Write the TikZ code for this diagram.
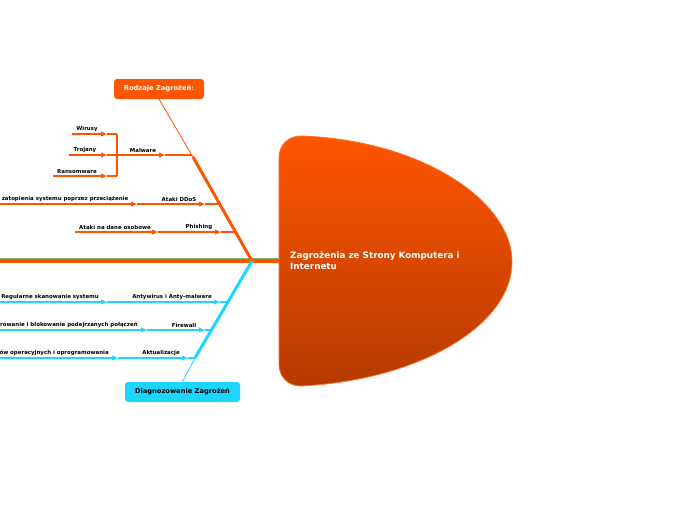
\documentclass[tikz,border=0pt]{standalone}
\usepackage{fontspec}
\setmainfont{DejaVu Sans}
\usepackage{tikz}
\usetikzlibrary{positioning,arrows.meta}
\definecolor{threat}{HTML}{FF5500}
\definecolor{threatdark}{HTML}{B53A00}
\definecolor{diag}{HTML}{1CD6FF}
\definecolor{spinegreen}{HTML}{86B46A}

\begin{document}
\begin{tikzpicture}[
      x=1pt,y=-1pt,
      lbl/.style={font=\fontsize{5.45}{6}\selectfont\bfseries,inner sep=0.6pt,anchor=south},
      topic/.style={rectangle,rounded corners=3pt,minimum height=20pt,inner xsep=6pt,font=\fontsize{6.7}{8}\selectfont\bfseries},
      obr/.style={draw=threat,line width=1.4pt},
      cbr/.style={draw=diag,line width=1.4pt},
      tip/.style={-{Triangle[length=6pt,width=4.6pt]}},
    ]
    \useasboundingbox (0,0) rectangle (696,520);
    % head of the fish
    \shade[top color=threat,bottom color=threatdark,draw=threat!85!white,line width=0.8pt]
      (301,136) .. controls (420,140) and (512,200) .. (512,262)
      .. controls (512,325) and (420,380) .. (301,386)
      .. controls (288,386) and (279,377) .. (279,364) -- (279,158)
      .. controls (279,145) and (288,136) .. (301,136) -- cycle;
    \node[anchor=west,align=left,text=white,inner sep=0pt,font=\fontsize{8.8}{11}\selectfont\bfseries] (root) at (290,261)
      {Zagrożenia ze Strony Komputera i\\Internetu};
    % spine
    \coordinate (tail) at (0,261);
    \coordinate (joint) at (252,261);
    \coordinate (neck) at (279,261);
    \draw[spinegreen,line width=1pt] (0,258.5) -- (279,258.5);
    \draw[threat,line width=3.6pt] (tail) -- (neck);
    % topic boxes
    \node[topic,fill=threat,text=white,minimum width=90pt] (kinds) at (159,89) {Rodzaje Zagrożeń:};
    \node[topic,fill=diag,text=black,minimum width=115pt] (detect) at (182.5,392) {Diagnozowanie Zagrożeń};
    % bones
    \coordinate (ubone) at (193,157);
    \coordinate (lbone) at (195,358);
    \draw[threat,line width=3pt] (joint) -- (ubone);
    \draw[threat,line width=0.8pt] (ubone) -- (kinds.south);
    \draw[diag,line width=3pt] (joint) -- (lbone);
    \draw[diag,line width=0.8pt] (lbone) -- (detect.north);

    % Malware
    \coordinate (mw0) at (117,155);
    \coordinate (mwtip) at (165,155);
    \coordinate (mwend) at (192,155);
    \node[lbl] (malware) at (143,153) {Malware};
    \draw[obr,tip] (mw0) -- (mwtip);
    \draw[obr] (mwtip) -- (mwend);
    \draw[obr] (117,134) -- (117,176);
    \node[lbl] (wirusy) at (87,132) {Wirusy};
    \node[lbl] (trojany) at (85,153) {Trojany};
    \node[lbl] (ransom) at (77,174) {Ransomware};
    \draw[obr,tip] (72,134) -- (107,134);
    \draw[obr] (107,134) -- (117,134);
    \draw[obr,tip] (69,155) -- (107,155);
    \draw[obr] (107,155) -- (117,155);
    \draw[obr,tip] (53,176) -- (107,176);
    \draw[obr] (107,176) -- (117,176);

    % Ataki DDoS
    \coordinate (dd0) at (0,204);
    \coordinate (ddsub) at (137,204);
    \coordinate (ddtip) at (205,204);
    \coordinate (ddend) at (219,204);
    \node[lbl,anchor=south west] (ddosdesc) at (1,202) {zatopienia systemu poprzez przeciążenie};
    \node[lbl] (ddos) at (179,202) {Ataki DDoS};
    \draw[obr,tip] (dd0) -- (ddsub);
    \draw[obr,tip] (ddsub) -- (ddtip);
    \draw[obr] (ddtip) -- (ddend);

    % Phishing
    \coordinate (ph0) at (75,232);
    \coordinate (phsub) at (158,232);
    \coordinate (phtip) at (221,232);
    \coordinate (phend) at (235,232);
    \node[lbl] (phishdesc) at (115,230) {Ataki na dane osobowe};
    \node[lbl] (phishing) at (199,230) {Phishing};
    \draw[obr,tip] (ph0) -- (phsub);
    \draw[obr,tip] (phsub) -- (phtip);
    \draw[obr] (phtip) -- (phend);

    % Antywirus
    \coordinate (av0) at (0,302);
    \coordinate (avsub) at (107,302);
    \coordinate (avtip) at (220,302);
    \coordinate (avend) at (228,302);
    \node[lbl,anchor=south west] (scan) at (0.5,300) {Regularne skanowanie systemu};
    \node[lbl] (antyw) at (172,300) {Antywirus i Anty-malware};
    \draw[cbr,tip] (av0) -- (avsub);
    \draw[cbr,tip] (avsub) -- (avtip);
    \draw[cbr] (avtip) -- (avend);

    % Firewall
    \coordinate (fw0) at (0,330);
    \coordinate (fwsub) at (147,330);
    \coordinate (fwtip) at (205,330);
    \coordinate (fwend) at (212,330);
    \node[lbl,anchor=south east] (filter) at (138.5,328) {rowanie i blokowanie podejrzanych połączeń};
    \node[lbl] (firewall) at (184,328) {Firewall};
    \draw[cbr,tip] (fw0) -- (fwsub);
    \draw[cbr,tip] (fwsub) -- (fwtip);
    \draw[cbr] (fwtip) -- (fwend);

    % Aktualizacje
    \coordinate (ak0) at (0,358);
    \coordinate (aksub) at (118,358);
    \coordinate (aktip) at (188,358);
    \coordinate (akend) at (195,358);
    \node[lbl,anchor=south east] (updesc) at (109.5,356) {ów operacyjnych i oprogramowania};
    \node[lbl] (aktual) at (161,356) {Aktualizacje};
    \draw[cbr,tip] (ak0) -- (aksub);
    \draw[cbr,tip] (aksub) -- (aktip);
    \draw[cbr] (aktip) -- (akend);
  \end{tikzpicture}
\end{document}
